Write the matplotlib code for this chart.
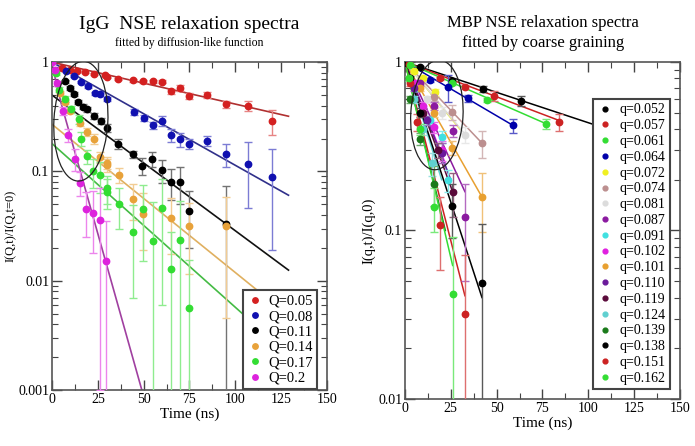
import matplotlib.pyplot as plt
from matplotlib.patches import Ellipse
import numpy as np

plt.rcParams['font.family'] = ['Liberation Serif', 'DejaVu Serif']

# ---------------- left panel: IgG ----------------
igg_labels = ['Q=0.05', 'Q=0.08', 'Q=0.11', 'Q=0.14', 'Q=0.17', 'Q=0.2']
igg_colors = ['#d42020', '#1010b0', '#000000', '#e8a23a', '#33dd33', '#dd22dd']
igg_line_colors = ['#b03030', '#30308a', '#111111', '#e0b060', '#44bb44', '#a040a0']

igg_t = [
    [5.5, 9.8, 13.6, 18, 22.9, 28.9, 30, 36, 44, 49.6, 55, 60, 65, 70, 75, 84.5, 95, 107, 120],
    [7.6, 12, 15.8, 19.6, 23.5, 26, 30, 45, 50, 55, 60, 65, 70, 75, 84.5, 95, 107, 120],
    [7.1, 9.8, 12, 14.2, 16.9, 19.1, 22.9, 26.7, 30, 36, 44.2, 49, 54.5, 60, 65, 70, 75, 95],
    [4.4, 7.1, 9.8, 15.3, 19.1, 22.9, 26.2, 30, 30, 36.5, 44.2, 49.6, 65, 75, 95],
    [2, 4, 7, 10.5, 15, 16, 19, 22.5, 26, 30, 30, 36.5, 44.2, 49.6, 55, 60, 65, 70, 75],
    [0, 1.6, 2.7, 6, 8.7, 12.5, 15.3, 18.5, 22.4, 26.2, 29.5],
]
igg_y = [
    [0.88, 0.845, 0.83, 0.81, 0.78, 0.76, 0.73, 0.70, 0.68, 0.67, 0.67, 0.66, 0.54, 0.58, 0.49, 0.50, 0.41, 0.40, 0.29],
    [0.83, 0.745, 0.66, 0.60, 0.52, 0.51, 0.46, 0.35, 0.31, 0.265, 0.29, 0.215, 0.197, 0.18, 0.19, 0.144, 0.116, 0.089],
    [0.67, 0.58, 0.51, 0.43, 0.39, 0.37, 0.32, 0.29, 0.25, 0.18, 0.144, 0.112, 0.13, 0.103, 0.08, 0.08, 0.043, 0.033],
    [0.52, 0.43, 0.36, 0.28, 0.23, 0.20, 0.135, 0.12, 0.114, 0.093, 0.056, 0.041, 0.0375, 0.0316, 0.0316],
    [0.8, 0.56, 0.46, 0.37, 0.30, 0.20, 0.138, 0.10, 0.093, 0.07, 0.065, 0.05, 0.028, 0.045, 0.023, 0.046, 0.0127, 0.0235, 0.0056],
    [1.0, 0.845, 0.64, 0.36, 0.215, 0.13, 0.079, 0.045, 0.042, 0.036, 0.0152],
]
igg_err = [
    [0.02, 0.02, 0.02, 0.02, 0.02, 0.02, 0.02, 0.02, 0.02, 0.02, 0.02, 0.02, 0.03, 0.04, 0.03, 0.03, 0.03, 0.04, 0.075],
    [0.015, 0.015, 0.015, 0.015, 0.015, 0.015, 0.02, 0.02, 0.02, 0.02, 0.03, 0.03, 0.03, 0.02, 0.02, 0.035, 0.07, 0.07],
    [0.02, 0.02, 0.02, 0.02, 0.02, 0.02, 0.02, 0.02, 0.02, 0.02, 0.01, 0.02, 0.02, 0.025, 0.025, 0.03, 0.023, 0.04],
    [0.02, 0.02, 0.02, 0.02, 0.02, 0.02, 0.015, 0.015, 0.015, 0.015, 0.02, 0.022, 0.02, 0.02, 0.027],
    [0.03, 0.03, 0.03, 0.03, 0.03, 0.03, 0.02, 0.03, 0.03, 0.02, 0.02, 0.02, 0.021, 0.03, 0.03, 0.04, 0.015, 0.03, 0.01],
    [0.03, 0.03, 0.03, 0.03, 0.03, 0.03, 0.02, 0.02, 0.024, 0.035, 0.02],
]
# fit lines (start / end points, straight on the log axis)
igg_fit_t = [[0, 129], [0, 129], [0, 129], [0, 129], [0, 129], [0, 5, 49]]
igg_fit_y = [[1.0, 0.32], [1.0, 0.0606], [0.50, 0.0125], [0.27, 0.0048], [0.18, 0.0021], [0.95, 0.42, 0.001]]

# ---------------- right panel: MBP ----------------
mbp_labels = ['q=0.052', 'q=0.057', 'q=0.061', 'q=0.064', 'q=0.072', 'q=0.074', 'q=0.081', 'q=0.087',
              'q=0.091', 'q=0.102', 'q=0.101', 'q=0.110', 'q=0.119', 'q=0.124', 'q=0.139', 'q=0.138',
              'q=0.151', 'q=0.162']
mbp_colors = ['#000000', '#cc2222', '#33dd33', '#0000aa', '#f0f020', '#bc8f8f', '#dcdcdc', '#8b1aa0',
              '#40e0e0', '#e020e0', '#e8a030', '#6a1a9a', '#5a0a3a', '#60d0d0', '#1a7a1a', '#000000',
              '#cc2222', '#33dd33']
mbp_t = [
    [1, 8, 25.6, 42.5, 63.3],
    [2, 19, 32.7, 48.5, 84],
    [3, 25.6, 44.7, 77],
    [13.6, 23.5, 34.4, 59],
    [5, 10, 16.4],
    [16, 25.6, 42],
    [12, 20, 32.7],
    [8, 15.8, 26.2, 32.7],
    [6, 13.6, 20, 23.5],
    [5, 10, 15.8, 20],
    [8, 16, 25.6, 42],
    [5, 12, 20],
    [10, 18, 26],
    [5, 10, 15],
    [3, 8, 15.8],
    [3, 8, 25.6, 42],
    [3, 6.5, 19, 32.7],
    [2, 8, 15.8, 26],
]
mbp_y = [
    [0.99, 0.93, 0.77, 0.69, 0.59],
    [0.97, 0.80, 0.71, 0.63, 0.44],
    [0.96, 0.75, 0.595, 0.43],
    [0.78, 0.71, 0.61, 0.42],
    [0.88, 0.80, 0.66],
    [0.62, 0.505, 0.33],
    [0.60, 0.50, 0.37],
    [0.75, 0.55, 0.39, 0.12],
    [0.70, 0.45, 0.36, 0.20],
    [0.75, 0.55, 0.41, 0.30],
    [0.70, 0.50, 0.31, 0.158],
    [0.70, 0.45, 0.29],
    [0.50, 0.30, 0.17],
    [0.60, 0.40, 0.25],
    [0.60, 0.35, 0.19],
    [0.80, 0.50, 0.14, 0.049],
    [0.75, 0.44, 0.108, 0.032],
    [0.80, 0.40, 0.138, 0.042],
]
mbp_err = [
    [0.01, 0.02, 0.02, 0.03, 0.04],
    [0.01, 0.02, 0.02, 0.04, 0.05],
    [0.01, 0.02, 0.02, 0.03],
    [0.02, 0.13, 0.03, 0.04],
    [0.02, 0.02, 0.03],
    [0.03, 0.05, 0.06],
    [0.03, 0.04, 0.04],
    [0.03, 0.03, 0.03, 0.07],
    [0.03, 0.03, 0.03, 0.03],
    [0.03, 0.03, 0.03, 0.04],
    [0.03, 0.03, 0.03, 0.06],
    [0.03, 0.03, 0.04],
    [0.03, 0.03, 0.05],
    [0.03, 0.03, 0.04],
    [0.03, 0.03, 0.05],
    [0.03, 0.03, 0.05, 0.06],
    [0.03, 0.05, 0.05, 0.04],
    [0.03, 0.03, 0.04, 0.05],
]
mbp_fit_end_t = [130, 84, 77, 59, 30, 42, 33, 32.7, 23.5, 22, 42, 25, 26, 20, 22, 42, 32.7, 26]
mbp_fit_end_y = [0.34, 0.45, 0.43, 0.42, 0.40, 0.33, 0.37, 0.17, 0.22, 0.25, 0.158, 0.20, 0.17, 0.20, 0.10,
                 0.04, 0.041, 0.062]


def lighten(c, f=0.45):
    rgb = np.array(plt.matplotlib.colors.to_rgb(c))
    return tuple(rgb + (1 - rgb) * f)


def style_axes(ax, ymin, yticks, yticklabels):
    ax.set_yscale('log')
    ax.set_xlim(0, 150)
    ax.set_ylim(ymin, 1.0)
    ax.set_xticks(np.arange(0, 151, 25))
    ax.set_xticks(np.arange(12.5, 150, 25), minor=True)
    ax.set_yticks(yticks)
    ax.set_yticklabels(yticklabels)
    ax.tick_params(which='both', direction='in', top=True, right=True, colors='#444444',
                   labelcolor='black', labelsize=10)
    ax.tick_params(which='major', length=7, width=1.0, pad=2)
    ax.tick_params(which='minor', length=4, width=0.8)
    for s in ax.spines.values():
        s.set_color('#555555')
        s.set_linewidth(1.2)
    ax.set_xlabel('Time (ns)', fontsize=11, labelpad=1)


fig = plt.figure(figsize=(6.95, 4.46), dpi=100)

# left
ax1 = fig.add_axes([0.0748, 0.1256, 0.3957, 0.735])
for i in range(len(igg_labels)):
    ax1.plot(igg_fit_t[i], igg_fit_y[i], color=igg_line_colors[i], lw=1.2, zorder=2)
    ax1.errorbar(igg_t[i], igg_y[i], yerr=igg_err[i], fmt='none', ecolor=lighten(igg_colors[i]),
                 elinewidth=1.0, capsize=3, capthick=1.0, zorder=3)
    ax1.plot(igg_t[i], igg_y[i], 'o', color=igg_colors[i], ms=4.6, label=igg_labels[i], zorder=4)
style_axes(ax1, 0.001, [0.001, 0.01, 0.1, 1], ['0.001', '0.01', '0.1', '1'])
ax1.set_ylabel('I(Q,t)/I(Q,t=0)', fontsize=9, labelpad=1)
ax1.add_patch(Ellipse((0.105, 0.82), 0.196, 0.366, angle=-4, transform=ax1.transAxes,
                      fill=False, ec='#222222', lw=0.9, zorder=5))
leg1 = ax1.legend(loc='lower right', bbox_to_anchor=(0.964, 0.003), borderaxespad=0,
                  fontsize=10.5, handletextpad=0.4, labelspacing=0.15, handlelength=1.0,
                  borderpad=0.3, fancybox=False, framealpha=1, edgecolor='#444444', markerscale=0.85)
leg1.get_frame().set_linewidth(1.5)
leg1.set_zorder(10)
fig.text(0.272, 0.945, 'IgG  NSE relaxation spectra', ha='center', va='center', fontsize=14)
fig.text(0.272, 0.903, 'fitted by diffusion-like function', ha='center', va='center', fontsize=8.5)

# right
ax2 = fig.add_axes([0.5827, 0.1054, 0.3957, 0.7556])
for i in range(len(mbp_labels)):
    ax2.plot([0, mbp_fit_end_t[i]], [1.0, mbp_fit_end_y[i]], color=mbp_colors[i], lw=1.1, zorder=2)
    ax2.errorbar(mbp_t[i], mbp_y[i], yerr=mbp_err[i], fmt='none', ecolor=lighten(mbp_colors[i], 0.35),
                 elinewidth=1.0, capsize=3, capthick=1.0, zorder=3)
    ax2.plot(mbp_t[i], mbp_y[i], 'o', color=mbp_colors[i], ms=4.6, label=mbp_labels[i], zorder=4)
style_axes(ax2, 0.01, [0.01, 0.1, 1], ['0.01', '0.1', '1'])
ax2.set_ylabel('I(q,t)/I(q,0)', fontsize=10.5, labelpad=2)
ax2.add_patch(Ellipse((0.116, 0.843), 0.19, 0.326, angle=-4, transform=ax2.transAxes,
                      fill=False, ec='#222222', lw=0.9, zorder=5))
leg2 = ax2.legend(loc='lower right', bbox_to_anchor=(0.964, 0.03), borderaxespad=0,
                  fontsize=10, handletextpad=0.6, labelspacing=0.2, handlelength=1.0,
                  borderpad=0.3, fancybox=False, framealpha=1, edgecolor='#444444', markerscale=0.75)
leg2.get_frame().set_linewidth(1.5)
leg2.set_zorder(10)
fig.text(0.781, 0.948, 'MBP NSE relaxation spectra', ha='center', va='center', fontsize=12)
fig.text(0.781, 0.903, 'fitted by coarse graining', ha='center', va='center', fontsize=12)

fig.savefig('out.png', dpi=100)
